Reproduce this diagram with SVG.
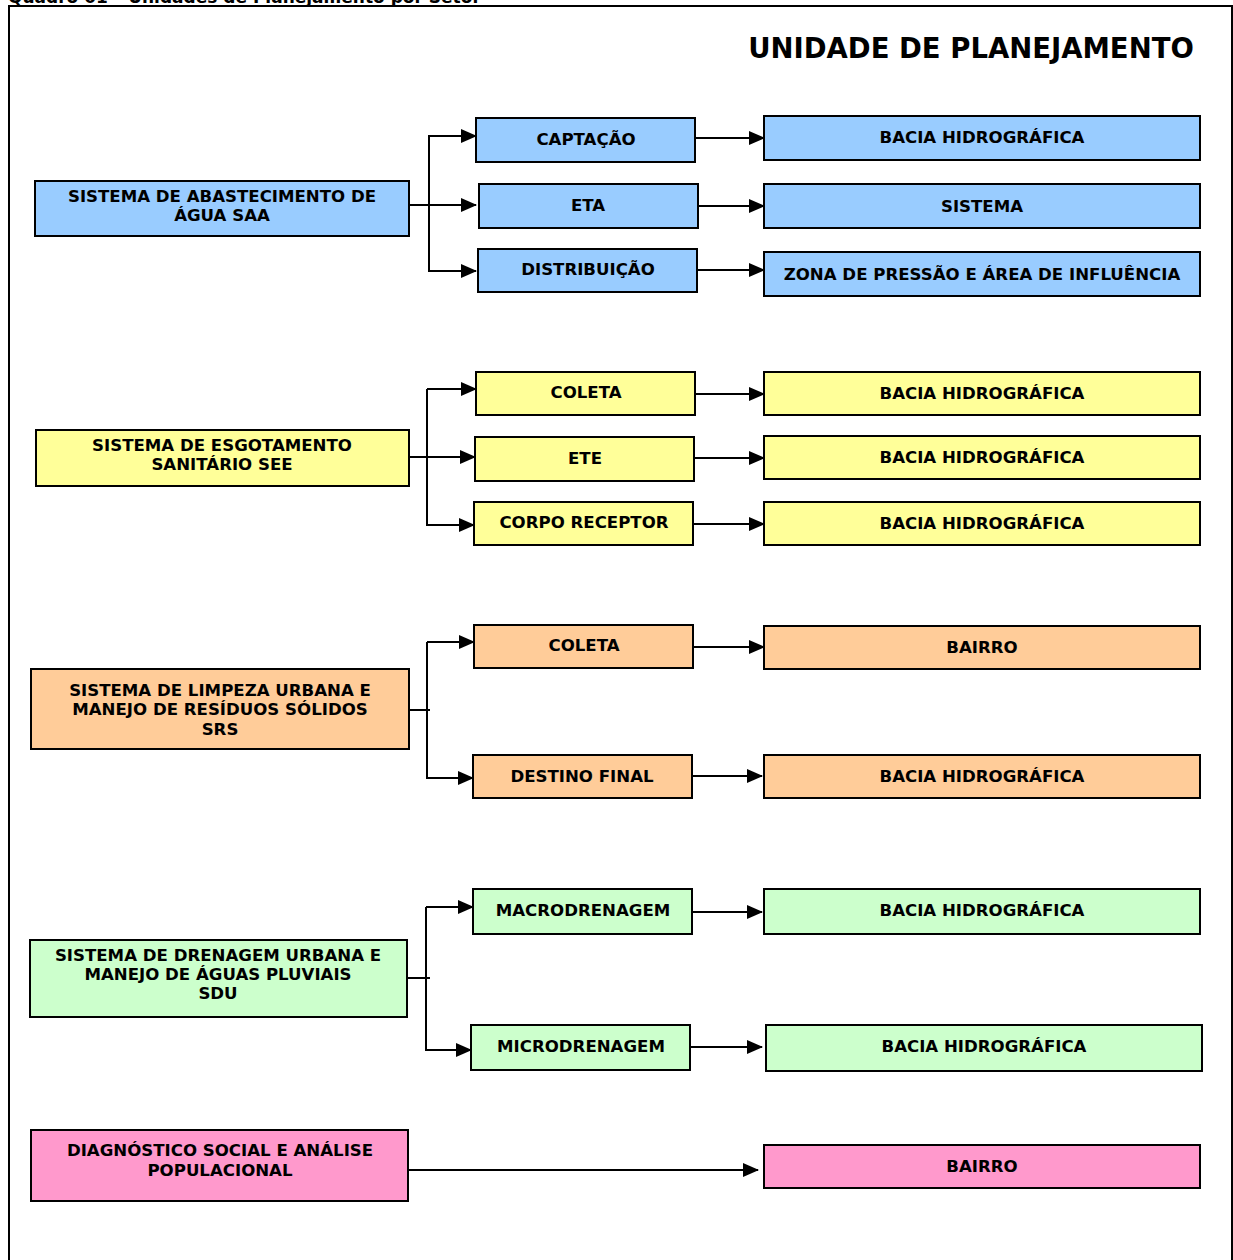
<svg xmlns="http://www.w3.org/2000/svg" width="1233" height="1260" viewBox="0 0 1233 1260">
<style>
  .n rect { stroke: #000; stroke-width: 2; }
  .blue { fill: #99CCFF; }
  .yellow { fill: #FFFF99; }
  .orange { fill: #FFCC99; }
  .green { fill: #CCFFCC; }
  .pink { fill: #FF99CC; }
  text { font-family: "DejaVu Sans", Verdana, sans-serif; font-weight: bold; fill: #000; }
  .t { font-size: 16.6px; text-anchor: middle; }
  .c path, .c line { stroke: #000; stroke-width: 2; fill: none; }
</style>
<defs>
  <marker id="ah" markerUnits="userSpaceOnUse" markerWidth="16" markerHeight="14" refX="15" refY="7" orient="auto">
    <path d="M0,0 L16,7 L0,14 Z" fill="#000"/>
  </marker>
</defs>
<rect x="0" y="0" width="1233" height="1260" fill="#fff"/>
<text x="8" y="3" style="font-size:17px">Quadro 01 – Unidades de Planejamento por Setor</text>
<path d="M9,1260 V6 H1232 V1260" fill="none" stroke="#000" stroke-width="2"/>
<text x="971" y="58" style="font-size:27.5px" text-anchor="middle">UNIDADE DE PLANEJAMENTO</text>

<g class="c">
  <!-- SAA -->
  <line x1="409" y1="205" x2="476" y2="205" marker-end="url(#ah)"/>
  <path d="M476,136 H429 V271 H476" marker-end="url(#ah)"/>
  <path d="M429,136 H476" marker-end="url(#ah)"/>
  <line x1="695" y1="138" x2="764" y2="138" marker-end="url(#ah)"/>
  <line x1="695" y1="206" x2="764" y2="206" marker-end="url(#ah)"/>
  <line x1="695" y1="270" x2="764" y2="270" marker-end="url(#ah)"/>
  <!-- SEE -->
  <line x1="409" y1="457" x2="475" y2="457" marker-end="url(#ah)"/>
  <path d="M427,389 V525 H474" marker-end="url(#ah)"/>
  <path d="M427,389 H476" marker-end="url(#ah)"/>
  <line x1="695" y1="394" x2="764" y2="394" marker-end="url(#ah)"/>
  <line x1="694" y1="458" x2="764" y2="458" marker-end="url(#ah)"/>
  <line x1="693" y1="524" x2="764" y2="524" marker-end="url(#ah)"/>
  <!-- SRS -->
  <line x1="409" y1="710" x2="430" y2="710"/>
  <path d="M427,642 V778 H473" marker-end="url(#ah)"/>
  <path d="M427,642 H474" marker-end="url(#ah)"/>
  <line x1="693" y1="647" x2="764" y2="647" marker-end="url(#ah)"/>
  <line x1="692" y1="776" x2="762" y2="776" marker-end="url(#ah)"/>
  <!-- SDU -->
  <line x1="407" y1="978" x2="430" y2="978"/>
  <path d="M426,907 V1050 H471" marker-end="url(#ah)"/>
  <path d="M426,907 H473" marker-end="url(#ah)"/>
  <line x1="692" y1="912" x2="762" y2="912" marker-end="url(#ah)"/>
  <line x1="690" y1="1047" x2="762" y2="1047" marker-end="url(#ah)"/>
  <!-- Social -->
  <line x1="408" y1="1170" x2="758" y2="1170" marker-end="url(#ah)"/>
</g>

<g id="saa" class="n"><rect class="blue" x="35" y="181" width="374" height="55"/><text class="t" x="222" y="202">SISTEMA DE ABASTECIMENTO DE</text><text class="t" x="222" y="221">ÁGUA SAA</text></g>
<g id="captacao" class="n"><rect class="blue" x="476" y="118" width="219" height="44"/><text class="t" x="586" y="145">CAPTAÇÃO</text></g>
<g id="eta" class="n"><rect class="blue" x="479" y="184" width="219" height="44"/><text class="t" x="588" y="211">ETA</text></g>
<g id="distribuicao" class="n"><rect class="blue" x="478" y="249" width="219" height="43"/><text class="t" x="588" y="275">DISTRIBUIÇÃO</text></g>
<g id="saa-bacia" class="n"><rect class="blue" x="764" y="116" width="436" height="44"/><text class="t" x="982" y="143">BACIA HIDROGRÁFICA</text></g>
<g id="saa-sistema" class="n"><rect class="blue" x="764" y="184" width="436" height="44"/><text class="t" x="982" y="212">SISTEMA</text></g>
<g id="saa-zona" class="n"><rect class="blue" x="764" y="252" width="436" height="44"/><text class="t" x="982" y="280">ZONA DE PRESSÃO E ÁREA DE INFLUÊNCIA</text></g>

<g id="see" class="n"><rect class="yellow" x="36" y="430" width="373" height="56"/><text class="t" x="222" y="451">SISTEMA DE ESGOTAMENTO</text><text class="t" x="222" y="470">SANITÁRIO SEE</text></g>
<g id="see-coleta" class="n"><rect class="yellow" x="476" y="372" width="219" height="43"/><text class="t" x="586" y="398">COLETA</text></g>
<g id="ete" class="n"><rect class="yellow" x="475" y="437" width="219" height="44"/><text class="t" x="585" y="464">ETE</text></g>
<g id="corpo" class="n"><rect class="yellow" x="474" y="502" width="219" height="43"/><text class="t" x="584" y="528">CORPO RECEPTOR</text></g>
<g id="see-bacia1" class="n"><rect class="yellow" x="764" y="372" width="436" height="43"/><text class="t" x="982" y="399">BACIA HIDROGRÁFICA</text></g>
<g id="see-bacia2" class="n"><rect class="yellow" x="764" y="436" width="436" height="43"/><text class="t" x="982" y="463">BACIA HIDROGRÁFICA</text></g>
<g id="see-bacia3" class="n"><rect class="yellow" x="764" y="502" width="436" height="43"/><text class="t" x="982" y="529">BACIA HIDROGRÁFICA</text></g>

<g id="srs" class="n"><rect class="orange" x="31" y="669" width="378" height="80"/><text class="t" x="220" y="696">SISTEMA DE LIMPEZA URBANA E</text><text class="t" x="220" y="715">MANEJO DE RESÍDUOS SÓLIDOS</text><text class="t" x="220" y="735">SRS</text></g>
<g id="srs-coleta" class="n"><rect class="orange" x="474" y="625" width="219" height="43"/><text class="t" x="584" y="651">COLETA</text></g>
<g id="destino" class="n"><rect class="orange" x="473" y="755" width="219" height="43"/><text class="t" x="582" y="782">DESTINO FINAL</text></g>
<g id="srs-bairro" class="n"><rect class="orange" x="764" y="626" width="436" height="43"/><text class="t" x="982" y="653">BAIRRO</text></g>
<g id="srs-bacia" class="n"><rect class="orange" x="764" y="755" width="436" height="43"/><text class="t" x="982" y="782">BACIA HIDROGRÁFICA</text></g>

<g id="sdu" class="n"><rect class="green" x="30" y="940" width="377" height="77"/><text class="t" x="218" y="961">SISTEMA DE DRENAGEM URBANA E</text><text class="t" x="218" y="980">MANEJO DE ÁGUAS PLUVIAIS</text><text class="t" x="218" y="999">SDU</text></g>
<g id="macro" class="n"><rect class="green" x="473" y="889" width="219" height="45"/><text class="t" x="583" y="916">MACRODRENAGEM</text></g>
<g id="micro" class="n"><rect class="green" x="471" y="1025" width="219" height="45"/><text class="t" x="581" y="1052">MICRODRENAGEM</text></g>
<g id="sdu-bacia1" class="n"><rect class="green" x="764" y="889" width="436" height="45"/><text class="t" x="982" y="916">BACIA HIDROGRÁFICA</text></g>
<g id="sdu-bacia2" class="n"><rect class="green" x="766" y="1025" width="436" height="46"/><text class="t" x="984" y="1052">BACIA HIDROGRÁFICA</text></g>

<g id="social" class="n"><rect class="pink" x="31" y="1130" width="377" height="71"/><text class="t" x="220" y="1156">DIAGNÓSTICO SOCIAL E ANÁLISE</text><text class="t" x="220" y="1176">POPULACIONAL</text></g>
<g id="social-bairro" class="n"><rect class="pink" x="764" y="1145" width="436" height="43"/><text class="t" x="982" y="1172">BAIRRO</text></g>
</svg>
